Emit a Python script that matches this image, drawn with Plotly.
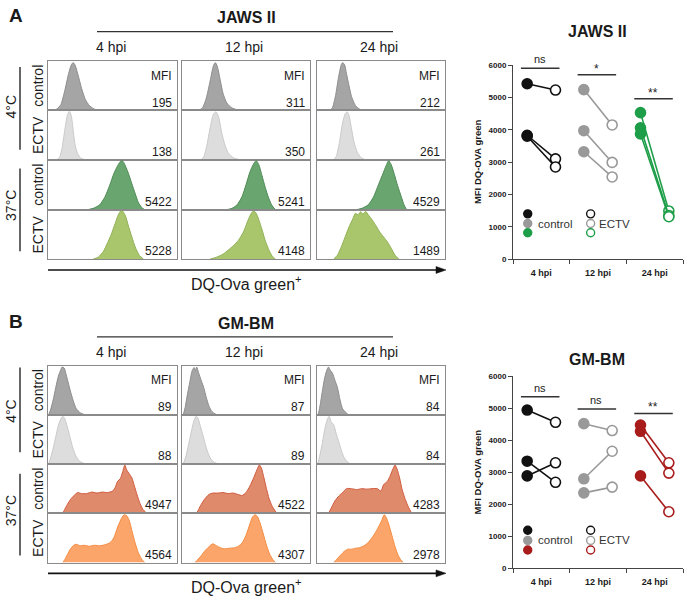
import plotly.graph_objects as go

W, H = 685, 601
FONT = "Arial, Liberation Sans, sans-serif"

# ---------------- DATA ----------------
hpi_labels = ["4 hpi", "12 hpi", "24 hpi"]
row_labels = ["control", "ECTV", "control", "ECTV"]
temp_labels = ["4°C", "37°C"]

# MFI values shown in histogram cells (rows: 4C ctrl, 4C ECTV, 37C ctrl, 37C ECTV; cols: 4/12/24 hpi)
jaws_mfi = [[195, 311, 212], [138, 350, 261], [5422, 5241, 4529], [5228, 4148, 1489]]
gm_mfi = [[89, 87, 84], [88, 89, 84], [4947, 4522, 4283], [4564, 4307, 2978]]

# Histogram outlines: (position % of box width, height fraction of box height)
jaws_4c_ctrl_4h = [(4,0),(7,0.03),(10,0.12),(13,0.4),(16,0.75),(18,0.92),(19.5,0.97),(21,0.92),(23,0.75),(26,0.45),(29,0.22),(32,0.1),(35,0.04),(38,0)]
jaws_4c_ctrl_12h = [(13,0),(16,0.05),(19,0.25),(22,0.6),(24.5,0.9),(26,0.97),(27.5,0.9),(30,0.6),(32,0.35),(35,0.15),(39,0.05),(45,0)]
jaws_4c_ctrl_24h = [(10,0),(12,0.05),(14.5,0.3),(17,0.7),(19,0.93),(20,0.97),(21.5,0.93),(23,0.75),(25,0.5),(27,0.28),(30,0.1),(33,0.03),(36,0)]
jaws_4c_ectv_4h = [(7,0),(9,0.05),(11,0.25),(13,0.6),(15,0.9),(16.5,0.98),(18,0.9),(19.5,0.6),(21,0.3),(23,0.12),(25.5,0.03),(28.5,0)]
jaws_4c_ectv_12h = [(15,0),(17,0.06),(19.5,0.3),(22,0.65),(24.5,0.92),(26.5,0.97),(28.5,0.88),(31,0.55),(33.5,0.3),(36,0.14),(40,0.04),(45,0)]
jaws_4c_ectv_24h = [(13,0),(15,0.06),(17.5,0.35),(20,0.75),(22,0.93),(23.5,0.97),(25,0.9),(27,0.62),(29,0.35),(31.5,0.15),(34.5,0.04),(37.5,0)]
jaws_37c_ctrl_4h = [(30,0),(35,0.03),(40,0.1),(44,0.25),(48,0.5),(51,0.72),(54,0.88),(56,0.96),(57.5,0.98),(59,0.93),(62,0.75),(65,0.52),(67.5,0.33),(70,0.15),(72.5,0.05),(75,0)]
jaws_37c_ctrl_12h = [(34,0),(39,0.03),(43,0.1),(47,0.27),(50,0.5),(53,0.75),(56,0.92),(58,0.98),(60,0.9),(62.5,0.68),(65,0.45),(67.5,0.25),(70,0.1),(73,0)]
jaws_37c_ctrl_24h = [(30,0),(35,0.03),(40,0.1),(44,0.25),(48,0.5),(51.5,0.72),(54,0.88),(56,0.98),(58,0.9),(60.5,0.7),(63,0.48),(66,0.25),(68,0.1),(70,0)]
jaws_37c_ectv_4h = [(35,0),(39,0.04),(43,0.16),(46,0.32),(49,0.5),(52,0.72),(54.5,0.9),(56.5,0.98),(58,0.97),(60,0.88),(62.5,0.66),(65,0.45),(68,0.22),(71,0.07),(74,0)]
jaws_37c_ectv_12h = [(22,0),(27,0.04),(32,0.1),(36,0.18),(40,0.27),(44,0.38),(48,0.55),(51,0.75),(53.5,0.9),(55.5,0.97),(57.5,0.95),(60,0.8),(62.5,0.6),(65,0.38),(68,0.18),(70.5,0.06),(73,0)]
jaws_37c_ectv_24h = [(13,0),(16,0.08),(19,0.25),(22,0.45),(25,0.65),(28,0.82),(30,0.93),(32,0.9),(34,0.96),(36,0.92),(38,0.97),(40,0.9),(43,0.8),(46,0.68),(49,0.55),(52,0.45),(55,0.35),(58,0.22),(61,0.08),(64,0)]

gm_4c_ctrl_4h = [(0.5,0),(2,0.1),(4,0.3),(6,0.55),(8,0.78),(10,0.92),(11,0.97),(12.5,0.95),(14,0.82),(16,0.62),(18,0.42),(20,0.25),(22,0.12),(25,0.04),(28.5,0)]
gm_4c_ctrl_12h = [(1,0),(2.5,0.15),(4,0.38),(6,0.65),(8,0.9),(9.5,0.96),(10.5,0.9),(11.5,0.97),(13,0.85),(15,0.7),(17,0.55),(19,0.35),(21,0.18),(23.5,0.06),(27,0)]
gm_4c_ctrl_24h = [(1,0),(2.5,0.2),(4,0.45),(6,0.75),(8,0.93),(9,0.97),(10.5,0.9),(12,0.85),(14,0.7),(16,0.55),(18,0.3),(20,0.12),(22,0.06),(24.5,0)]
gm_4c_ectv_4h = [(0.5,0),(2,0.12),(4,0.32),(6,0.55),(8,0.78),(10,0.92),(11.5,0.97),(13,0.92),(15,0.75),(17,0.55),(19,0.35),(21,0.2),(23.5,0.08),(27,0.02),(30,0)]
gm_4c_ectv_12h = [(1,0),(3,0.15),(5,0.38),(7,0.62),(9,0.85),(11,0.97),(12.5,0.93),(14,0.8),(16,0.62),(18,0.42),(20,0.25),(22.5,0.1),(25.5,0.03),(29,0)]
gm_4c_ectv_24h = [(0.5,0),(2,0.15),(4,0.4),(6,0.7),(8,0.9),(9.5,0.97),(11,0.86),(13,0.8),(15,0.62),(17,0.45),(19,0.28),(21,0.14),(23.5,0.05),(26,0)]
gm_37c_ctrl_4h = [(11.5,0),(13,0.08),(15,0.18),(18,0.3),(21,0.38),(23,0.42),(26,0.4),(30,0.4),(34,0.43),(38,0.41),(42,0.43),(46,0.42),(50,0.45),(52,0.52),(54,0.65),(56,0.7),(58,0.85),(59.5,0.98),(61,0.88),(63,0.8),(65,0.72),(67,0.55),(69,0.38),(71,0.22),(73.5,0.08),(76.5,0)]
gm_37c_ctrl_12h = [(11.5,0),(13,0.08),(15,0.18),(18,0.3),(21,0.38),(24,0.41),(28,0.41),(32,0.42),(36,0.4),(40,0.41),(44,0.38),(47,0.36),(50,0.42),(53,0.55),(56,0.72),(58.5,0.88),(60.5,0.98),(62,0.92),(64,0.72),(66,0.5),(68,0.3),(70.5,0.14),(74,0)]
gm_37c_ctrl_24h = [(9,0),(11,0.1),(14,0.25),(17,0.35),(20,0.42),(23,0.5),(27,0.5),(31,0.48),(35,0.5),(39,0.49),(43,0.5),(47,0.5),(50,0.45),(52,0.58),(55,0.65),(57,0.75),(59,0.88),(61,0.98),(62.5,0.9),(64.5,0.72),(66.5,0.48),(69,0.28),(71.5,0.12),(74,0)]
gm_37c_ectv_4h = [(11.5,0),(13,0.06),(15,0.16),(17.5,0.28),(20,0.35),(22,0.37),(25,0.34),(28,0.35),(32,0.33),(36,0.35),(40,0.34),(44,0.36),(48,0.4),(51,0.5),(54,0.72),(57,0.9),(59,0.97),(61,0.95),(63,0.85),(65,0.65),(67.5,0.4),(70,0.2),(72.5,0.07),(75,0)]
gm_37c_ectv_12h = [(10,0),(12,0.05),(15,0.14),(18,0.24),(21,0.32),(24,0.38),(27,0.34),(30,0.3),(33,0.28),(37,0.29),(41,0.3),(44,0.33),(47,0.4),(50,0.55),(53,0.78),(55,0.92),(57,0.97),(59,0.93),(61,0.8),(63.5,0.58),(66,0.35),(68.5,0.17),(71,0.06),(73,0)]
gm_37c_ectv_24h = [(13,0),(15,0.05),(18,0.14),(21,0.22),(24,0.27),(27,0.27),(30,0.29),(33,0.3),(36,0.33),(39,0.38),(42,0.47),(45,0.58),(48,0.72),(50.5,0.85),(52.5,0.97),(54,0.92),(56,0.78),(58.5,0.55),(61,0.32),(63.5,0.14),(65.5,0.05),(67.5,0)]

# Paired MFI values (3 replicates per time point), control -> ECTV
jaws_ctrl = [[5422, 3830, 3800], [5241, 3970, 3320], [4529, 4060, 3870]]
jaws_ectv = [[5228, 3100, 2850], [4148, 2990, 2540], [1489, 1350, 1310]]
gm_ctrl = [[4947, 3350, 2890], [4522, 2800, 2360], [4480, 4283, 2890]]
gm_ectv = [[4564, 2690, 3300], [4307, 3660, 2540], [3300, 2978, 1770]]

jaws_sig_y = [5900, 5700, 4960]
jaws_sig_txt = ["ns", "*", "**"]
gm_sig_y = [5360, 4980, 4840]
gm_sig_txt = ["ns", "ns", "**"]

jaws_legend_y = [1400, 1100, 815]
gm_legend_y = [1194, 875, 576]

# ---------------- STYLE / LAYOUT ----------------
def fx(p):
    return p / W

def fy(p):
    return 1 - p / H

col_px = [(48, 177), (182, 310), (317, 445)]
rows_A = [58, 108, 158, 209, 259]
rows_B = [367, 417, 467, 517, 567]

hist_styles_A = [("#a5a5a5", "#8d8d8d"), ("#dddddd", "#c9c9c9"), ("#69a56e", "#4f8a56"), ("#a9c66d", "#90b055")]
hist_styles_B = [("#a5a5a5", "#8d8d8d"), ("#dddddd", "#c9c9c9"), ("#e08a6c", "#cf5a3c"), ("#fca56b", "#f38b40")]

jaws_hists = [[jaws_4c_ctrl_4h, jaws_4c_ctrl_12h, jaws_4c_ctrl_24h],
              [jaws_4c_ectv_4h, jaws_4c_ectv_12h, jaws_4c_ectv_24h],
              [jaws_37c_ctrl_4h, jaws_37c_ctrl_12h, jaws_37c_ctrl_24h],
              [jaws_37c_ectv_4h, jaws_37c_ectv_12h, jaws_37c_ectv_24h]]
gm_hists = [[gm_4c_ctrl_4h, gm_4c_ctrl_12h, gm_4c_ctrl_24h],
            [gm_4c_ectv_4h, gm_4c_ectv_12h, gm_4c_ectv_24h],
            [gm_37c_ctrl_4h, gm_37c_ctrl_12h, gm_37c_ctrl_24h],
            [gm_37c_ectv_4h, gm_37c_ectv_12h, gm_37c_ectv_24h]]

fig = go.Figure()
layout = {}
annotations = []
shapes = []
TXT = "#1a1a1a"

def ann(text, x, y, size, bold=False, angle=0, xanchor="center", yanchor="middle", color=TXT):
    annotations.append(dict(text=text, x=fx(x), y=fy(y), xref="paper", yref="paper",
                            showarrow=False, textangle=angle, xanchor=xanchor, yanchor=yanchor,
                            font=dict(family=FONT, size=size, color=color,
                                      weight="bold" if bold else "normal")))

def pline(x0, y0, x1, y1, color="#333333", width=1.5):
    shapes.append(dict(type="line", xref="paper", yref="paper", x0=fx(x0), y0=fy(y0),
                       x1=fx(x1), y1=fy(y1), line=dict(color=color, width=width)))

def arrow(x0, x1, y):
    pline(x0, y, x1 - 8, y, color="#111111", width=1.6)
    path = (f"M {fx(x1)} {fy(y)} L {fx(x1 - 10)} {fy(y - 3.5)} "
            f"L {fx(x1 - 10)} {fy(y + 3.5)} Z")
    shapes.append(dict(type="path", xref="paper", yref="paper", path=path,
                       fillcolor="#111111", line=dict(color="#111111", width=0.5)))

axn = [0]

def new_axes():
    axn[0] += 1
    n = axn[0]
    xk = "xaxis" if n == 1 else f"xaxis{n}"
    yk = "yaxis" if n == 1 else f"yaxis{n}"
    xr = "x" if n == 1 else f"x{n}"
    yr = "y" if n == 1 else f"y{n}"
    return xk, yk, xr, yr

def hist_panel(hists, mfi, rows, styles, letter, title, title_y, hdr_line_y, hdr_y, arrow_y, xlab_y,
               temp_y, temp_lines):
    for r in range(4):
        for c in range(3):
            x0, x1 = col_px[c]
            y0, y1 = rows[r], rows[r + 1]
            xk, yk, xr, yr = new_axes()
            pts = hists[r][c]
            fill, edge = styles[r]
            fig.add_trace(go.Scatter(x=[p[0] for p in pts], y=[p[1] for p in pts], mode="lines",
                                     line=dict(color=edge, width=1, shape="spline", smoothing=0.6),
                                     fill="tozeroy", fillcolor=fill, xaxis=xr, yaxis=yr,
                                     hoverinfo="skip", showlegend=False))
            layout[xk] = dict(domain=[fx(x0), fx(x1)], range=[0, 100], anchor=yr, showline=True,
                              mirror=True, linecolor="#8a8a8a", linewidth=1, showgrid=False,
                              zeroline=False, showticklabels=False, ticks="", fixedrange=True)
            layout[yk] = dict(domain=[fy(y1), fy(y0)], range=[0, 1.0], anchor=xr, showline=True,
                              mirror=True, linecolor="#8a8a8a", linewidth=1, showgrid=False,
                              zeroline=False, showticklabels=False, ticks="", fixedrange=True)
            ann(str(mfi[r][c]), x1 - 3, y1 - 8, 12, xanchor="right")
            if r == 0:
                ann("MFI", x1 - 3, y0 + 15, 12, xanchor="right")
    # headers
    ann(letter, 16, title_y - 2, 19, bold=True)
    ann(title, 246, title_y, 16, bold=True)
    pline(97, hdr_line_y, 393, hdr_line_y, color="#333333", width=1.3)
    for c in range(3):
        x0, x1 = col_px[c]
        ann(hpi_labels[c], (x0 + x1) / 2 - 2, hdr_y, 14)
    # row labels
    for r in range(4):
        ann(row_labels[r], 38, (rows[r] + rows[r + 1]) / 2, 14, angle=-90)
    for t in range(2):
        ann(temp_labels[t], 11, temp_y[t], 14, angle=-90)
        pline(20, temp_lines[t][0], 20, temp_lines[t][1], color="#333333", width=1.5)
    arrow(48, 446, arrow_y)
    ann("DQ-Ova green<sup>+</sup>", 246, xlab_y, 16)


hist_panel(jaws_hists, jaws_mfi, rows_A, hist_styles_A, "A", "JAWS II", 14, 28, 44, 270, 283,
           [104, 205], [(64, 148), (167, 251)])
hist_panel(gm_hists, gm_mfi, rows_B, hist_styles_B, "B", "GM-BM", 324, 338, 353, 578, 591,
           [413, 515], [(369, 455), (477, 560)])


def scatter_panel(ctrl, ectv, group_colors, sig_y, sig_txt, leg_y, ydom, title, title_y):
    xk, yk, xr, yr = new_axes()
    y_top, y_bot = ydom
    for i in range(3):
        col = group_colors[i]
        for r in range(3):
            fig.add_trace(go.Scatter(
                x=[i + 0.25, i + 0.75], y=[ctrl[i][r], ectv[i][r]], mode="lines+markers",
                line=dict(color=col, width=1.6),
                marker=dict(size=10, color=[col, "white"], line=dict(color=col, width=1.6)),
                xaxis=xr, yaxis=yr, hoverinfo="skip", showlegend=False, cliponaxis=False))
        # significance
        shapes.append(dict(type="line", xref=xr, yref=yr, x0=i + 0.14, x1=i + 0.82,
                           y0=sig_y[i], y1=sig_y[i], line=dict(color="#333333", width=1.5)))
        annotations.append(dict(text=sig_txt[i], x=i + 0.47, y=sig_y[i], xref=xr, yref=yr,
                                showarrow=False, yanchor="middle", yshift=9 if sig_txt[i] == "ns" else 6,
                                font=dict(family=FONT, size=11 if sig_txt[i] == "ns" else 12, color="#222222")))
    # in-plot legend
    for k in range(3):
        col = group_colors[k]
        fig.add_trace(go.Scatter(x=[0.26, 1.37], y=[leg_y[k], leg_y[k]], mode="markers",
                                 marker=dict(size=8, color=[col, "white"], line=dict(color=col, width=1.4)),
                                 xaxis=xr, yaxis=yr, hoverinfo="skip", showlegend=False, cliponaxis=False))
    for txt, xv in (("control", 0.41), ("ECTV", 1.49)):
        annotations.append(dict(text=txt, x=xv, y=leg_y[1], xref=xr, yref=yr, showarrow=False,
                                xanchor="left", yanchor="middle",
                                font=dict(family=FONT, size=11.5, color="#333333")))
    layout[xk] = dict(domain=[fx(513), fx(683)], range=[0, 3], anchor=yr, showline=True,
                      linecolor="#444444", linewidth=1, showgrid=False, zeroline=False,
                      tickmode="array", tickvals=[0.5, 1.5, 2.5], ticktext=hpi_labels, ticks="",
                      ticklabelstandoff=5,
                      tickfont=dict(family=FONT, size=9, color=TXT, weight="bold"),
                      minor=dict(tickmode="array", tickvals=[0, 1, 2, 3], ticks="outside",
                                 ticklen=4, tickcolor="#444444", tickwidth=1, showgrid=False),
                      fixedrange=True)
    layout[yk] = dict(domain=[fy(y_bot), fy(y_top)], range=[0, 6000], anchor=xr, showline=True,
                      linecolor="#444444", linewidth=1, showgrid=False, zeroline=False,
                      tickmode="array", tickvals=[0, 1000, 2000, 3000, 4000, 5000, 6000],
                      ticks="outside", ticklen=4, tickcolor="#444444",
                      tickfont=dict(family=FONT, size=8, color=TXT, weight="bold"), fixedrange=True)
    ann("MFI DQ-OVA green", 477, (y_top + y_bot) / 2, 9.5, bold=True, angle=-90)
    ann(title, 597, title_y, 16, bold=True)


scatter_panel(jaws_ctrl, jaws_ectv, ["#111111", "#999999", "#1e9e48"], jaws_sig_y, jaws_sig_txt,
              jaws_legend_y, (62, 259), "JAWS II", 28)
scatter_panel(gm_ctrl, gm_ectv, ["#111111", "#999999", "#a81c1c"], gm_sig_y, gm_sig_txt,
              gm_legend_y, (378, 573), "GM-BM", 361)

fig.update_layout(width=W, height=H, margin=dict(l=0, r=0, t=0, b=0), autosize=False,
                  paper_bgcolor="white", plot_bgcolor="rgba(0,0,0,0)", showlegend=False,
                  annotations=annotations, shapes=shapes, font=dict(family=FONT),
                  **layout)
fig.write_html("out.html", config={"displayModeBar": False},
               post_script="document.body.style.margin='0px';")
